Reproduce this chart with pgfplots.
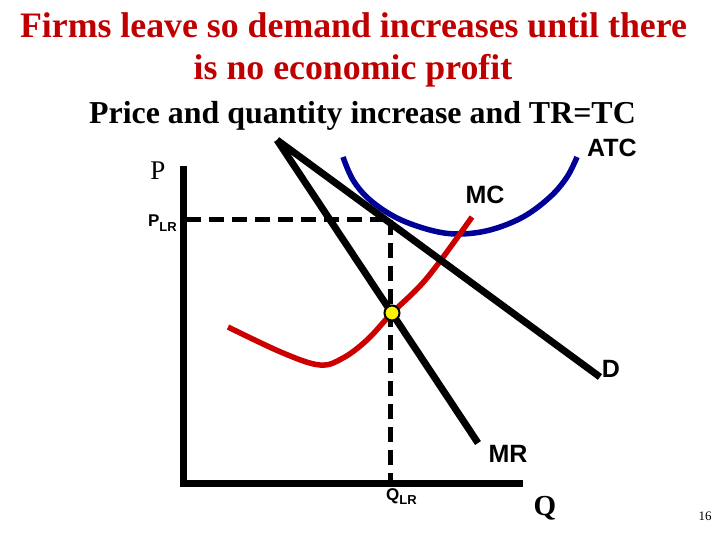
\documentclass[border=0pt]{standalone}
\usepackage{pgfplots}
\pgfplotsset{compat=1.18}
\usepackage{fontspec}
\setmainfont{Liberation Serif}
\setsansfont{Liberation Sans}
\definecolor{titlered}{RGB}{192,0,0}
\definecolor{mcred}{RGB}{204,0,0}
\definecolor{atcblue}{RGB}{0,0,153}
\begin{document}
\begin{tikzpicture}
\begin{axis}[
  width=720bp, height=540bp, scale only axis,
  xmin=0, xmax=720, ymin=0, ymax=540, y dir=reverse,
  hide axis, clip=false]
% axes
\addplot[black, line width=7bp, line cap=butt] coordinates {(183,166) (183,486)};
\addplot[black, line width=7bp, line cap=butt] coordinates {(180,483) (523,483)};
% dashed guides
\addplot[black, line width=5bp, dash pattern=on 15bp off 8bp] coordinates {(186,220) (390,220)};
\addplot[black, line width=5bp, dash pattern=on 15bp off 8bp] coordinates {(390,220) (390,480)};
% ATC
\addplot[atcblue, line width=5.5bp, smooth, tension=0.6] coordinates {
 (343,157) (353,180) (370,200) (397,218) (430,230) (458,234) (490,230) (523,217) (550,197) (567,177) (577,157)};
% MC
\addplot[mcred, line width=5.5bp, smooth, tension=0.6] coordinates {
 (228,327) (283,353) (320,365) (343,358) (367,340) (392,313) (427,278) (472,217)};
% D
\addplot[black, line width=7bp] coordinates {(277,140) (600,377)};
% MR
\addplot[black, line width=7bp] coordinates {(277,140) (478,443)};
% equilibrium point
\addplot[only marks, mark=*, mark size=7.5bp, mark options={fill=yellow, draw=black, line width=2bp}] coordinates {(392,313)};
% titles
\node[anchor=base, text=titlered, font=\fontsize{35.8bp}{40bp}\selectfont\bfseries] at (axis cs:353.5,38) {Firms leave so demand increases until there};
\node[anchor=base, text=titlered, font=\fontsize{35.8bp}{40bp}\selectfont\bfseries] at (axis cs:353,80) {is no economic profit};
\node[anchor=base, text=black, font=\fontsize{31.9bp}{36bp}\selectfont\bfseries] at (axis cs:362.5,124) {Price and quantity increase and TR=TC};
% labels
\node[anchor=base, font=\fontsize{27bp}{30bp}\selectfont] at (axis cs:158,180) {P};
\node[anchor=base east, inner sep=0pt, font=\fontsize{17bp}{20bp}\selectfont\sffamily\bfseries] at (axis cs:177,227) {P\raisebox{-0.25em}{\fontsize{13bp}{15bp}\selectfont LR}};
\node[anchor=north west, inner sep=0pt, font=\fontsize{17bp}{20bp}\selectfont\sffamily\bfseries] at (axis cs:386,488) {Q\raisebox{-0.25em}{\fontsize{13bp}{15bp}\selectfont LR}};
\node[anchor=base, font=\fontsize{29bp}{32bp}\selectfont\bfseries] at (axis cs:545,515) {Q};
\node[font=\fontsize{25bp}{28bp}\selectfont\sffamily\bfseries] at (axis cs:612,148) {ATC};
\node[font=\fontsize{25bp}{28bp}\selectfont\sffamily\bfseries] at (axis cs:485,195) {MC};
\node[font=\fontsize{25bp}{28bp}\selectfont\sffamily\bfseries] at (axis cs:611,369) {D};
\node[font=\fontsize{25bp}{28bp}\selectfont\sffamily\bfseries] at (axis cs:508,454) {MR};
\node[font=\fontsize{13bp}{15bp}\selectfont] at (axis cs:705,516) {16};
\end{axis}
\pgfresetboundingbox
\path (current axis.south west) rectangle (current axis.north east);
\end{tikzpicture}
\end{document}
